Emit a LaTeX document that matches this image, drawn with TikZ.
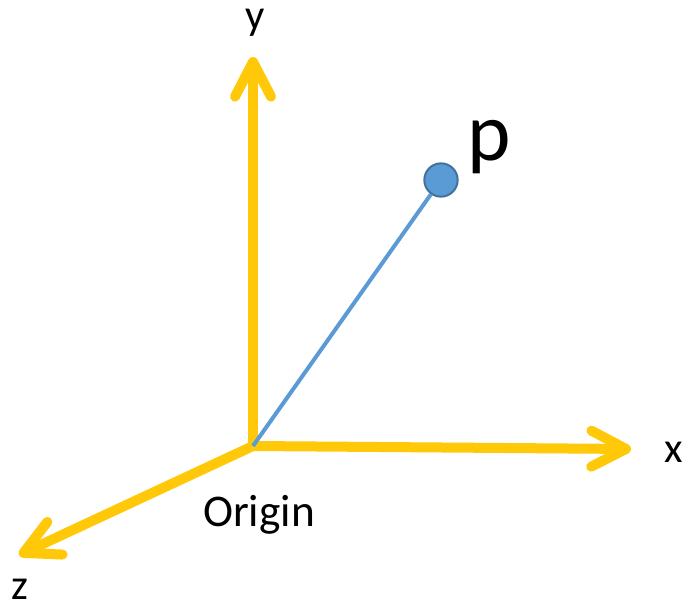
\documentclass[tikz,border=0pt]{standalone}
\usepackage{fontspec}
\setmainfont{Carlito}
\usetikzlibrary{arrows.meta}
\definecolor{axisGold}{HTML}{FFC90A}
\definecolor{pointBlue}{HTML}{5B9BD5}
\definecolor{pointEdge}{HTML}{41719C}
\tikzset{
  axis/.style = {draw=axisGold, line width=7.5pt,
                 -{Straight Barb[length=26pt, width=27pt, line cap=round, line join=round]}},
  ray/.style  = {draw=pointBlue, line width=3pt},
  dot/.style  = {circle, fill=pointBlue, draw=pointEdge, line width=1.5pt,
                 minimum size=25pt, inner sep=0pt},
  lbl/.style  = {font=\fontsize{32}{38}\selectfont, anchor=base, inner sep=0pt}
}
\begin{document}
\begin{tikzpicture}[x=0.75pt, y=-0.75pt]
  \useasboundingbox (0,0) rectangle (687,610);

  % --- axes
  \coordinate (orig) at (253,446);
  \coordinate (ytip) at (253,57);
  \coordinate (xtip) at (631,449);
  \coordinate (ztip) at (19,555);
  \draw[axis] (orig) -- (ytip);
  \draw[axis] (orig) -- (xtip);
  \draw[axis] (orig) -- (ztip);

  % --- point p
  \node[dot] (pt) at (441,180) {};
  \draw[ray] (orig) -- (pt);

  % --- labels
  \node[lbl] (ylab) at (255,30) {y};
  \node[lbl] (xlab) at (674,463) {x};
  \node[lbl] (zlab) at (20,599) {z};
  \node[lbl, font=\fontsize{34}{40}\selectfont] (olab) at (259,526) {Origin};
  \node[lbl, font=\fontsize{62}{70}\selectfont] (plab) at (489,161) {p};
\end{tikzpicture}
\end{document}
